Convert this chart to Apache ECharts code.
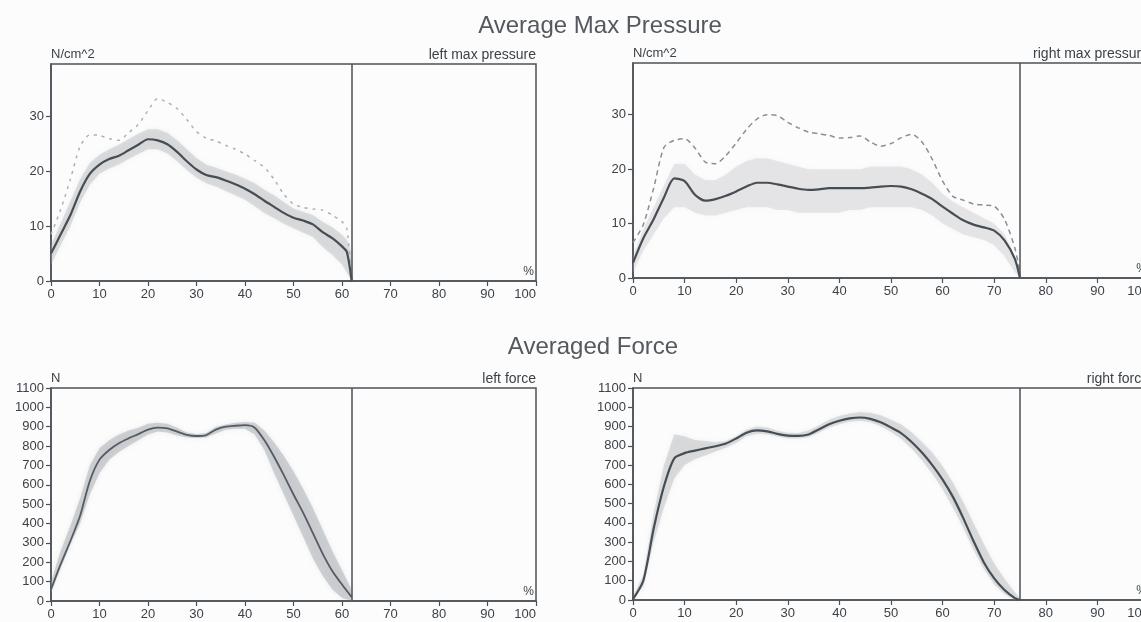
<!DOCTYPE html>
<html>
<head>
<meta charset="utf-8">
<title>Average Max Pressure / Averaged Force</title>
<script src="https://cdn.jsdelivr.net/npm/echarts@6/dist/echarts.min.js"></script>
<style>
html, body { margin: 0; padding: 0; background: #fcfcfc; }
#main { width: 1141px; height: 622px; }
</style>
</head>
<body>
<div id="main"></div>
<script>
// x = % of the gait cycle, stance ends where the vertical line is drawn
const leftStanceEnd = 62;
const rightStanceEnd = 75;
const pressureTicks = [0, 10, 20, 30];

// left max pressure (N/cm^2)
const leftPressureX = [0, 2, 4, 6, 8, 10, 12, 14, 16, 18, 20, 22, 24, 26, 28, 30, 32, 34, 36, 38, 40, 42, 44, 46, 48, 50, 52, 54, 56, 58, 60, 61, 62];
const leftPressureMean = [5, 8.5, 12, 16.3, 19.5, 21.2, 22.2, 22.8, 23.8, 24.8, 25.8, 25.6, 24.9, 23.5, 21.8, 20.3, 19.3, 18.9, 18.3, 17.6, 16.8, 15.8, 14.6, 13.5, 12.4, 11.5, 11.0, 10.3, 8.9, 7.8, 6.3, 5.3, 0];
const leftPressureMax = [8.5, 13, 18.5, 24.5, 26.6, 26.5, 25.9, 25.6, 27, 28.5, 31, 33.2, 32.5, 31.4, 29.4, 27.2, 26, 25.5, 24.7, 24, 23.1, 21.9, 20.7, 18.5, 15.8, 14, 13.4, 13.1, 12.9, 12, 10.8, 9.5, 0];
const leftPressureLow = [3, 6.5, 10, 14.3, 17.5, 19.5, 20.5, 21.2, 22.2, 23.1, 24, 24, 23.2, 21.8, 20.2, 18.8, 17.8, 17.2, 16.4, 15.6, 14.8, 13.6, 12.4, 11.4, 10.4, 9.6, 8.8, 8, 6.2, 4.8, 3, 1.5, 0];
const leftPressureHigh = [6.5, 10.5, 14.5, 18.5, 21.5, 23, 24, 24.8, 25.8, 26.8, 27.6, 27.6, 27, 25.6, 24, 22.4, 21.2, 20.6, 20, 19.4, 18.6, 17.8, 16.6, 15.6, 14.4, 13.2, 12.6, 12, 10.8, 9.8, 8.4, 7.5, 5];

// right max pressure (N/cm^2)
const rightPressureX = [0, 2, 4, 6, 8, 10, 12, 14, 16, 18, 20, 22, 24, 26, 28, 30, 32, 34, 36, 38, 40, 42, 44, 46, 48, 50, 52, 54, 56, 58, 60, 62, 64, 66, 68, 70, 72, 74, 75];
const rightPressureMean = [2.8, 7.3, 10.8, 14.8, 18.3, 17.8, 15.3, 14.2, 14.5, 15.1, 15.9, 16.8, 17.5, 17.5, 17.2, 16.8, 16.4, 16.2, 16.3, 16.5, 16.5, 16.5, 16.5, 16.6, 16.8, 16.9, 16.8, 16.3, 15.5, 14.5, 13.1, 11.8, 10.6, 9.8, 9.3, 8.7, 6.9, 3.5, 0];
const rightPressureMax = [6.5, 9.8, 16.5, 24, 25.3, 25.6, 23.9, 21.3, 21, 22.5, 24.8, 27.3, 29.2, 30, 29.8, 28.6, 27.6, 26.8, 26.5, 26.2, 25.7, 25.8, 26.1, 25, 24.2, 24.7, 25.8, 26.4, 25, 21.8, 17.8, 15, 14.3, 13.6, 13.4, 13.2, 10.8, 5.5, 1];
const rightPressureLow = [1, 5, 8, 11, 13, 13, 12, 11.5, 11.5, 12, 12.5, 13, 13, 13, 12.5, 12.5, 12, 12, 12, 12, 12, 12.5, 12.5, 13, 13, 13, 13, 13, 12.5, 11.5, 10, 9, 8, 7.5, 7, 6, 4, 1, 0];
const rightPressureHigh = [4, 9, 13, 17, 21, 21, 19, 18, 18, 19, 20.5, 21.5, 22, 22, 21.5, 21, 20.5, 20, 20, 20, 20, 20, 20, 20.5, 20.5, 20.5, 20.5, 20, 19, 17.5, 15.5, 14, 13, 12, 11, 10, 8, 4, 1];

// left force (N)
const leftForceX = [0, 2, 4, 6, 8, 10, 12, 14, 16, 18, 20, 22, 24, 26, 28, 30, 32, 34, 36, 38, 40, 42, 44, 46, 48, 50, 52, 54, 56, 58, 60, 62];
const leftForceMean = [60, 190, 310, 440, 620, 730, 780, 815, 840, 862, 885, 895, 892, 875, 858, 852, 857, 885, 900, 905, 908, 895, 830, 745, 650, 550, 455, 350, 245, 155, 85, 20];
const leftForceLow = [40, 170, 290, 400, 550, 660, 730, 770, 800, 830, 860, 875, 870, 855, 845, 842, 845, 865, 885, 890, 890, 860, 780, 660, 550, 440, 330, 220, 130, 60, 15, 0];
const leftForceHigh = [100, 260, 390, 530, 700, 790, 830, 860, 880, 895, 915, 920, 915, 895, 870, 862, 868, 900, 912, 920, 925, 920, 880, 820, 750, 670, 580, 480, 370, 260, 160, 60];

// right force (N)
const rightForceX = [0, 2, 4, 6, 8, 10, 12, 14, 16, 18, 20, 22, 24, 26, 28, 30, 32, 34, 36, 38, 40, 42, 44, 46, 48, 50, 52, 54, 56, 58, 60, 62, 64, 66, 68, 70, 72, 74, 75];
const rightForceMean = [5, 100, 370, 590, 735, 762, 775, 787, 798, 812, 838, 868, 880, 875, 862, 853, 852, 859, 885, 912, 930, 942, 947, 940, 922, 895, 865, 820, 765, 700, 625, 535, 425, 305, 195, 112, 52, 10, 0];
const rightForceLow = [0, 70, 300, 480, 630, 700, 730, 750, 770, 790, 815, 850, 862, 860, 848, 838, 838, 845, 868, 895, 912, 925, 930, 922, 902, 872, 835, 785, 725, 655, 575, 480, 375, 260, 160, 80, 30, 0, 0];
const rightForceHigh = [20, 130, 450, 700, 860, 850, 830, 825, 820, 825, 850, 885, 900, 895, 878, 868, 866, 880, 905, 935, 955, 968, 975, 972, 958, 935, 910, 870, 820, 765, 695, 610, 510, 400, 290, 190, 110, 40, 10];

const FONT = '"Liberation Sans", Arial, sans-serif';
const AXIS_COLOR = '#4b5158';
const TEXT_COLOR = '#3c4248';

// right-hand panels run past the edge of the page, like the scan
const grids = [
    { left: 51, top: 64, width: 485, height: 217 },
    { left: 633, top: 63, width: 516, height: 215 },
    { left: 51, top: 388, width: 485, height: 213 },
    { left: 633, top: 388, width: 516, height: 212 }
].map(g => Object.assign(g, {
    show: true, borderColor: AXIS_COLOR, borderWidth: 1.5, backgroundColor: 'transparent',
    containLabel: false, outerBoundsMode: 'none'
}));

const panelNames = ['left max pressure', 'right max pressure', 'left force', 'right force'];

function bottomAxis(g) {
    return {
        type: 'value', gridIndex: g, position: 'bottom', min: 0, max: 100, interval: 10,
        name: '%', nameLocation: 'end', nameGap: -2,
        nameTextStyle: { color: TEXT_COLOR, fontSize: 12, fontFamily: FONT, align: 'right', verticalAlign: 'bottom', padding: [0, 0, 3, 0] },
        axisLine: { show: true, lineStyle: { color: AXIS_COLOR, width: 1.5 } },
        axisTick: { show: true, length: 5, lineStyle: { color: AXIS_COLOR, width: 1.2 } },
        axisLabel: { color: TEXT_COLOR, fontSize: 13, fontFamily: FONT, margin: 7, alignMaxLabel: 'right' },
        splitLine: { show: false }
    };
}

function topAxis(g) {
    return {
        type: 'value', gridIndex: g, position: 'top', min: 0, max: 100,
        name: panelNames[g], nameLocation: 'end', nameGap: 0,
        nameTextStyle: { color: TEXT_COLOR, fontSize: 14, fontFamily: FONT, align: 'right', verticalAlign: 'bottom', padding: [0, 0, 2, 0] },
        axisLine: { show: false }, axisTick: { show: false }, axisLabel: { show: false },
        splitLine: { show: false }
    };
}

function leftAxis(g, isForce) {
    return {
        type: 'value', gridIndex: g, min: 0,
        max: isForce ? 1100 : 39.5,
        interval: isForce ? 100 : 10,
        name: isForce ? 'N' : 'N/cm^2', nameLocation: 'end', nameGap: 3,
        nameTextStyle: { color: TEXT_COLOR, fontSize: 13, fontFamily: FONT, align: 'left', verticalAlign: 'bottom' },
        axisLine: { show: true, lineStyle: { color: AXIS_COLOR, width: 1.5 } },
        axisTick: { show: true, length: 5, lineStyle: { color: AXIS_COLOR, width: 1.2 }, customValues: isForce ? undefined : pressureTicks },
        axisLabel: {
            color: TEXT_COLOR, fontSize: 13, fontFamily: FONT, margin: 7,
            customValues: isForce ? undefined : pressureTicks,
            formatter: v => String(v)
        },
        splitLine: { show: false }
    };
}

// shaded spread between two curves, drawn as one polygon through the axis scales
function band(g, xs, lo, hi, color) {
    return {
        type: 'custom', xAxisIndex: g, yAxisIndex: g, silent: true, z: 1,
        data: xs.map((x, i) => [x, lo[i], hi[i]]),
        encode: { x: 0, y: [1, 2] },
        renderItem: function (params, api) {
            if (params.dataIndex !== 0) return null;
            const pts = [];
            for (let i = 0; i < xs.length; i++) pts.push(api.coord([xs[i], hi[i]]));
            for (let i = xs.length - 1; i >= 0; i--) pts.push(api.coord([xs[i], lo[i]]));
            return {
                type: 'polygon',
                shape: { points: pts },
                style: { fill: color, shadowBlur: 5, shadowColor: color }
            };
        }
    };
}

function line(g, xs, ys, color, width, type, z) {
    return {
        type: 'line', xAxisIndex: g, yAxisIndex: g, z: z,
        data: xs.map((x, i) => [x, ys[i]]),
        symbol: 'none', smooth: 0.25, silent: true,
        lineStyle: { color: color, width: width, type: type }
    };
}

function stanceLine(value) {
    return {
        silent: true, symbol: ['none', 'none'], label: { show: false },
        lineStyle: { color: AXIS_COLOR, width: 1.5, type: 'solid' },
        data: [{ xAxis: value }]
    };
}

const meanColor = '#474d55';

const s1 = line(0, leftPressureX, leftPressureMean, meanColor, 2.2, 'solid', 4);
s1.markLine = stanceLine(leftStanceEnd);
const s2 = line(1, rightPressureX, rightPressureMean, meanColor, 2.2, 'solid', 4);
s2.markLine = stanceLine(rightStanceEnd);
const s3 = line(2, leftForceX, leftForceMean, '#555b63', 1.8, 'solid', 4);
s3.markLine = stanceLine(leftStanceEnd);
const s4 = line(3, rightForceX, rightForceMean, meanColor, 2.2, 'solid', 4);
s4.markLine = stanceLine(rightStanceEnd);

const chart = echarts.init(document.getElementById('main'));
chart.setOption({
    animation: false,
    backgroundColor: '#fcfcfc',
    textStyle: { fontFamily: FONT },
    grid: grids,
    xAxis: [bottomAxis(0), bottomAxis(1), bottomAxis(2), bottomAxis(3), topAxis(0), topAxis(1), topAxis(2), topAxis(3)],
    yAxis: [leftAxis(0, false), leftAxis(1, false), leftAxis(2, true), leftAxis(3, true)],
    graphic: [
        {
            type: 'text', x: 600, y: 26,
            style: { text: 'Average Max Pressure', font: '24px ' + FONT, fill: '#54595f', textAlign: 'center', textVerticalAlign: 'middle', align: 'center', verticalAlign: 'middle' }
        },
        {
            type: 'text', x: 593, y: 347,
            style: { text: 'Averaged Force', font: '24px ' + FONT, fill: '#54595f', textAlign: 'center', textVerticalAlign: 'middle', align: 'center', verticalAlign: 'middle' }
        }
    ],
    series: [
        band(0, leftPressureX, leftPressureLow, leftPressureHigh, 'rgba(165,168,173,0.35)'),
        line(0, leftPressureX, leftPressureMax, '#adb0b4', 1.5, [3, 5], 3),
        s1,
        band(1, rightPressureX, rightPressureLow, rightPressureHigh, 'rgba(185,187,191,0.3)'),
        line(1, rightPressureX, rightPressureMax, '#8a8f95', 1.5, [5, 4], 3),
        s2,
        band(2, leftForceX, leftForceLow, leftForceHigh, 'rgba(150,155,162,0.4)'),
        s3,
        band(3, rightForceX, rightForceLow, rightForceHigh, 'rgba(165,168,173,0.35)'),
        s4
    ]
});
</script>
</body>
</html>
